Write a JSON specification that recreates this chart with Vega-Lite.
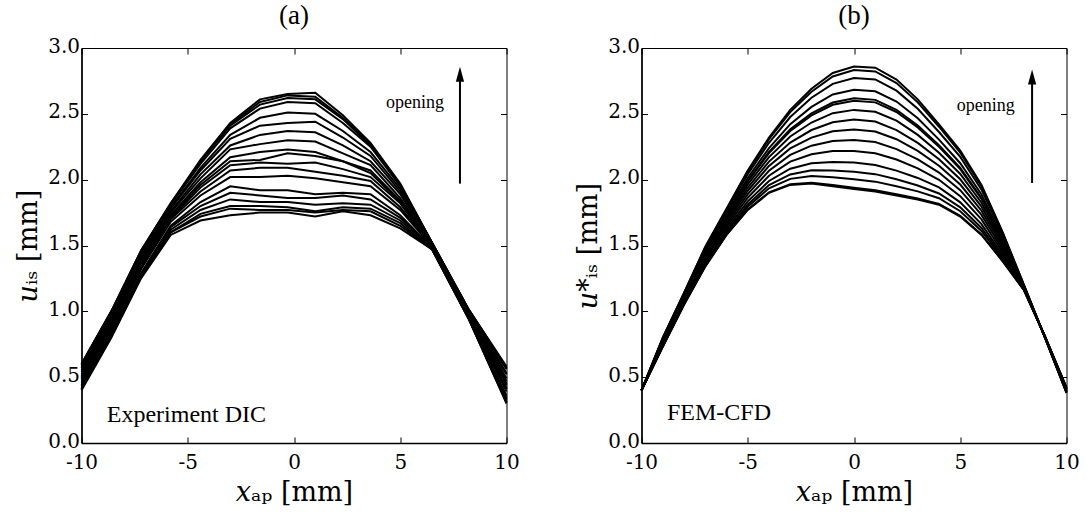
{
"$schema": "https://vega.github.io/schema/vega-lite/v6.json",
"background": "white",
"padding": {"left": 13.5, "top": 1, "right": 5, "bottom": 2},
"bounds": "flush",
"spacing": 135,
"config": {
  "font": "Liberation Serif",
  "view": {"stroke": "black", "strokeWidth": 1},
  "style": {"guide-label": {"font": "DejaVu Serif", "fill": "black"}, "guide-title": {"font": "DejaVu Serif", "fill": "black"}},
  "axis": {"grid": false, "domainColor": "black", "tickColor": "black", "labelColor": "black", "titleColor": "black", "labelFont": "DejaVu Serif", "titleFont": "DejaVu Serif", "labelFontSize": 20, "titleFontSize": 27, "titleFontWeight": "normal", "tickSize": -6, "labelPadding": 8, "domainWidth": 1.5, "tickWidth": 1, "labelFlush": false},
  "title": {"font": "Liberation Serif", "fontSize": 27, "fontWeight": "normal", "color": "black", "offset": 6}
},
"datasets": {
"dic": [
{"c":0,"x":-10,"y":0.40},{"c":0,"x":-8.6,"y":0.80},{"c":0,"x":-7.2,"y":1.25},{"c":0,"x":-5.8,"y":1.58},{"c":0,"x":-4.4,"y":1.69},{"c":0,"x":-3,"y":1.73},{"c":0,"x":-1.6,"y":1.75},{"c":0,"x":-0.3,"y":1.75},{"c":0,"x":1,"y":1.72},{"c":0,"x":2.3,"y":1.76},{"c":0,"x":3.6,"y":1.73},{"c":0,"x":5,"y":1.63},{"c":0,"x":6.5,"y":1.47},{"c":0,"x":8.2,"y":0.95},{"c":0,"x":10,"y":0.30},
{"c":1,"x":-10,"y":0.41},{"c":1,"x":-8.6,"y":0.81},{"c":1,"x":-7.2,"y":1.26},{"c":1,"x":-5.8,"y":1.60},{"c":1,"x":-4.4,"y":1.72},{"c":1,"x":-3,"y":1.78},{"c":1,"x":-1.6,"y":1.77},{"c":1,"x":-0.3,"y":1.77},{"c":1,"x":1,"y":1.75},{"c":1,"x":2.3,"y":1.77},{"c":1,"x":3.6,"y":1.76},{"c":1,"x":5,"y":1.65},{"c":1,"x":6.5,"y":1.47},{"c":1,"x":8.2,"y":0.95},{"c":1,"x":10,"y":0.31},
{"c":2,"x":-10,"y":0.41},{"c":2,"x":-8.6,"y":0.81},{"c":2,"x":-7.2,"y":1.26},{"c":2,"x":-5.8,"y":1.60},{"c":2,"x":-4.4,"y":1.74},{"c":2,"x":-3,"y":1.80},{"c":2,"x":-1.6,"y":1.80},{"c":2,"x":-0.3,"y":1.79},{"c":2,"x":1,"y":1.76},{"c":2,"x":2.3,"y":1.79},{"c":2,"x":3.6,"y":1.78},{"c":2,"x":5,"y":1.67},{"c":2,"x":6.5,"y":1.47},{"c":2,"x":8.2,"y":0.95},{"c":2,"x":10,"y":0.31},
{"c":3,"x":-10,"y":0.42},{"c":3,"x":-8.6,"y":0.82},{"c":3,"x":-7.2,"y":1.27},{"c":3,"x":-5.8,"y":1.62},{"c":3,"x":-4.4,"y":1.77},{"c":3,"x":-3,"y":1.85},{"c":3,"x":-1.6,"y":1.83},{"c":3,"x":-0.3,"y":1.83},{"c":3,"x":1,"y":1.81},{"c":3,"x":2.3,"y":1.82},{"c":3,"x":3.6,"y":1.81},{"c":3,"x":5,"y":1.69},{"c":3,"x":6.5,"y":1.48},{"c":3,"x":8.2,"y":0.96},{"c":3,"x":10,"y":0.33},
{"c":4,"x":-10,"y":0.43},{"c":4,"x":-8.6,"y":0.83},{"c":4,"x":-7.2,"y":1.28},{"c":4,"x":-5.8,"y":1.64},{"c":4,"x":-4.4,"y":1.80},{"c":4,"x":-3,"y":1.90},{"c":4,"x":-1.6,"y":1.88},{"c":4,"x":-0.3,"y":1.86},{"c":4,"x":1,"y":1.86},{"c":4,"x":2.3,"y":1.88},{"c":4,"x":3.6,"y":1.85},{"c":4,"x":5,"y":1.71},{"c":4,"x":6.5,"y":1.48},{"c":4,"x":8.2,"y":0.96},{"c":4,"x":10,"y":0.34},
{"c":5,"x":-10,"y":0.44},{"c":5,"x":-8.6,"y":0.84},{"c":5,"x":-7.2,"y":1.29},{"c":5,"x":-5.8,"y":1.65},{"c":5,"x":-4.4,"y":1.83},{"c":5,"x":-3,"y":1.95},{"c":5,"x":-1.6,"y":1.92},{"c":5,"x":-0.3,"y":1.92},{"c":5,"x":1,"y":1.89},{"c":5,"x":2.3,"y":1.90},{"c":5,"x":3.6,"y":1.89},{"c":5,"x":5,"y":1.73},{"c":5,"x":6.5,"y":1.48},{"c":5,"x":8.2,"y":0.96},{"c":5,"x":10,"y":0.36},
{"c":6,"x":-10,"y":0.46},{"c":6,"x":-8.6,"y":0.86},{"c":6,"x":-7.2,"y":1.32},{"c":6,"x":-5.8,"y":1.68},{"c":6,"x":-4.4,"y":1.88},{"c":6,"x":-3,"y":2.02},{"c":6,"x":-1.6,"y":2.02},{"c":6,"x":-0.3,"y":2.03},{"c":6,"x":1,"y":2.01},{"c":6,"x":2.3,"y":1.98},{"c":6,"x":3.6,"y":1.95},{"c":6,"x":5,"y":1.77},{"c":6,"x":6.5,"y":1.49},{"c":6,"x":8.2,"y":0.97},{"c":6,"x":10,"y":0.39},
{"c":7,"x":-10,"y":0.48},{"c":7,"x":-8.6,"y":0.88},{"c":7,"x":-7.2,"y":1.33},{"c":7,"x":-5.8,"y":1.70},{"c":7,"x":-4.4,"y":1.91},{"c":7,"x":-3,"y":2.07},{"c":7,"x":-1.6,"y":2.09},{"c":7,"x":-0.3,"y":2.09},{"c":7,"x":1,"y":2.06},{"c":7,"x":2.3,"y":2.03},{"c":7,"x":3.6,"y":1.99},{"c":7,"x":5,"y":1.79},{"c":7,"x":6.5,"y":1.49},{"c":7,"x":8.2,"y":0.98},{"c":7,"x":10,"y":0.41},
{"c":8,"x":-10,"y":0.49},{"c":8,"x":-8.6,"y":0.89},{"c":8,"x":-7.2,"y":1.34},{"c":8,"x":-5.8,"y":1.71},{"c":8,"x":-4.4,"y":1.94},{"c":8,"x":-3,"y":2.11},{"c":8,"x":-1.6,"y":2.13},{"c":8,"x":-0.3,"y":2.12},{"c":8,"x":1,"y":2.13},{"c":8,"x":2.3,"y":2.08},{"c":8,"x":3.6,"y":2.02},{"c":8,"x":5,"y":1.82},{"c":8,"x":6.5,"y":1.49},{"c":8,"x":8.2,"y":0.98},{"c":8,"x":10,"y":0.42},
{"c":9,"x":-10,"y":0.50},{"c":9,"x":-8.6,"y":0.90},{"c":9,"x":-7.2,"y":1.35},{"c":9,"x":-5.8,"y":1.72},{"c":9,"x":-4.4,"y":1.96},{"c":9,"x":-3,"y":2.14},{"c":9,"x":-1.6,"y":2.15},{"c":9,"x":-0.3,"y":2.20},{"c":9,"x":1,"y":2.18},{"c":9,"x":2.3,"y":2.14},{"c":9,"x":3.6,"y":2.05},{"c":9,"x":5,"y":1.83},{"c":9,"x":6.5,"y":1.50},{"c":9,"x":8.2,"y":0.99},{"c":9,"x":10,"y":0.44},
{"c":10,"x":-10,"y":0.51},{"c":10,"x":-8.6,"y":0.91},{"c":10,"x":-7.2,"y":1.36},{"c":10,"x":-5.8,"y":1.73},{"c":10,"x":-4.4,"y":1.98},{"c":10,"x":-3,"y":2.17},{"c":10,"x":-1.6,"y":2.21},{"c":10,"x":-0.3,"y":2.23},{"c":10,"x":1,"y":2.21},{"c":10,"x":2.3,"y":2.14},{"c":10,"x":3.6,"y":2.07},{"c":10,"x":5,"y":1.84},{"c":10,"x":6.5,"y":1.50},{"c":10,"x":8.2,"y":0.99},{"c":10,"x":10,"y":0.45},
{"c":11,"x":-10,"y":0.52},{"c":11,"x":-8.6,"y":0.92},{"c":11,"x":-7.2,"y":1.38},{"c":11,"x":-5.8,"y":1.75},{"c":11,"x":-4.4,"y":2.01},{"c":11,"x":-3,"y":2.23},{"c":11,"x":-1.6,"y":2.27},{"c":11,"x":-0.3,"y":2.30},{"c":11,"x":1,"y":2.29},{"c":11,"x":2.3,"y":2.20},{"c":11,"x":3.6,"y":2.11},{"c":11,"x":5,"y":1.86},{"c":11,"x":6.5,"y":1.50},{"c":11,"x":8.2,"y":0.99},{"c":11,"x":10,"y":0.47},
{"c":12,"x":-10,"y":0.54},{"c":12,"x":-8.6,"y":0.94},{"c":12,"x":-7.2,"y":1.39},{"c":12,"x":-5.8,"y":1.76},{"c":12,"x":-4.4,"y":2.04},{"c":12,"x":-3,"y":2.26},{"c":12,"x":-1.6,"y":2.34},{"c":12,"x":-0.3,"y":2.37},{"c":12,"x":1,"y":2.36},{"c":12,"x":2.3,"y":2.26},{"c":12,"x":3.6,"y":2.14},{"c":12,"x":5,"y":1.89},{"c":12,"x":6.5,"y":1.50},{"c":12,"x":8.2,"y":1.00},{"c":12,"x":10,"y":0.49},
{"c":13,"x":-10,"y":0.55},{"c":13,"x":-8.6,"y":0.95},{"c":13,"x":-7.2,"y":1.41},{"c":13,"x":-5.8,"y":1.78},{"c":13,"x":-4.4,"y":2.07},{"c":13,"x":-3,"y":2.31},{"c":13,"x":-1.6,"y":2.41},{"c":13,"x":-0.3,"y":2.43},{"c":13,"x":1,"y":2.44},{"c":13,"x":2.3,"y":2.32},{"c":13,"x":3.6,"y":2.18},{"c":13,"x":5,"y":1.91},{"c":13,"x":6.5,"y":1.51},{"c":13,"x":8.2,"y":1.00},{"c":13,"x":10,"y":0.52},
{"c":14,"x":-10,"y":0.57},{"c":14,"x":-8.6,"y":0.97},{"c":14,"x":-7.2,"y":1.43},{"c":14,"x":-5.8,"y":1.79},{"c":14,"x":-4.4,"y":2.09},{"c":14,"x":-3,"y":2.34},{"c":14,"x":-1.6,"y":2.47},{"c":14,"x":-0.3,"y":2.51},{"c":14,"x":1,"y":2.50},{"c":14,"x":2.3,"y":2.37},{"c":14,"x":3.6,"y":2.21},{"c":14,"x":5,"y":1.93},{"c":14,"x":6.5,"y":1.51},{"c":14,"x":8.2,"y":1.01},{"c":14,"x":10,"y":0.53},
{"c":15,"x":-10,"y":0.58},{"c":15,"x":-8.6,"y":0.98},{"c":15,"x":-7.2,"y":1.44},{"c":15,"x":-5.8,"y":1.81},{"c":15,"x":-4.4,"y":2.12},{"c":15,"x":-3,"y":2.39},{"c":15,"x":-1.6,"y":2.54},{"c":15,"x":-0.3,"y":2.59},{"c":15,"x":1,"y":2.58},{"c":15,"x":2.3,"y":2.43},{"c":15,"x":3.6,"y":2.25},{"c":15,"x":5,"y":1.95},{"c":15,"x":6.5,"y":1.52},{"c":15,"x":8.2,"y":1.01},{"c":15,"x":10,"y":0.56},
{"c":16,"x":-10,"y":0.59},{"c":16,"x":-8.6,"y":0.99},{"c":16,"x":-7.2,"y":1.45},{"c":16,"x":-5.8,"y":1.81},{"c":16,"x":-4.4,"y":2.14},{"c":16,"x":-3,"y":2.41},{"c":16,"x":-1.6,"y":2.57},{"c":16,"x":-0.3,"y":2.62},{"c":16,"x":1,"y":2.61},{"c":16,"x":2.3,"y":2.46},{"c":16,"x":3.6,"y":2.26},{"c":16,"x":5,"y":1.96},{"c":16,"x":6.5,"y":1.52},{"c":16,"x":8.2,"y":1.02},{"c":16,"x":10,"y":0.57},
{"c":17,"x":-10,"y":0.60},{"c":17,"x":-8.6,"y":1.00},{"c":17,"x":-7.2,"y":1.46},{"c":17,"x":-5.8,"y":1.82},{"c":17,"x":-4.4,"y":2.14},{"c":17,"x":-3,"y":2.42},{"c":17,"x":-1.6,"y":2.59},{"c":17,"x":-0.3,"y":2.64},{"c":17,"x":1,"y":2.63},{"c":17,"x":2.3,"y":2.47},{"c":17,"x":3.6,"y":2.27},{"c":17,"x":5,"y":1.96},{"c":17,"x":6.5,"y":1.52},{"c":17,"x":8.2,"y":1.02},{"c":17,"x":10,"y":0.57},
{"c":18,"x":-10,"y":0.60},{"c":18,"x":-8.6,"y":1.00},{"c":18,"x":-7.2,"y":1.46},{"c":18,"x":-5.8,"y":1.82},{"c":18,"x":-4.4,"y":2.15},{"c":18,"x":-3,"y":2.43},{"c":18,"x":-1.6,"y":2.61},{"c":18,"x":-0.3,"y":2.65},{"c":18,"x":1,"y":2.66},{"c":18,"x":2.3,"y":2.49},{"c":18,"x":3.6,"y":2.28},{"c":18,"x":5,"y":1.97},{"c":18,"x":6.5,"y":1.52},{"c":18,"x":8.2,"y":1.02},{"c":18,"x":10,"y":0.58}
],
"fem": [
{"c":0,"x":-10,"y":0.40},{"c":0,"x":-9,"y":0.73},{"c":0,"x":-8,"y":1.05},{"c":0,"x":-7,"y":1.34},{"c":0,"x":-6,"y":1.58},{"c":0,"x":-5,"y":1.77},{"c":0,"x":-4,"y":1.90},{"c":0,"x":-3,"y":1.96},{"c":0,"x":-2,"y":1.97},{"c":0,"x":-1,"y":1.95},{"c":0,"x":0,"y":1.93},{"c":0,"x":1,"y":1.91},{"c":0,"x":2,"y":1.88},{"c":0,"x":3,"y":1.85},{"c":0,"x":4,"y":1.81},{"c":0,"x":5,"y":1.72},{"c":0,"x":6,"y":1.58},{"c":0,"x":7,"y":1.38},{"c":0,"x":8,"y":1.16},{"c":0,"x":9,"y":0.805},{"c":0,"x":10,"y":0.42},
{"c":1,"x":-10,"y":0.40},{"c":1,"x":-9,"y":0.731},{"c":1,"x":-8,"y":1.051},{"c":1,"x":-7,"y":1.342},{"c":1,"x":-6,"y":1.582},{"c":1,"x":-5,"y":1.773},{"c":1,"x":-4,"y":1.904},{"c":1,"x":-3,"y":1.966},{"c":1,"x":-2,"y":1.977},{"c":1,"x":-1,"y":1.959},{"c":1,"x":0,"y":1.939},{"c":1,"x":1,"y":1.919},{"c":1,"x":2,"y":1.889},{"c":1,"x":3,"y":1.858},{"c":1,"x":4,"y":1.816},{"c":1,"x":5,"y":1.725},{"c":1,"x":6,"y":1.584},{"c":1,"x":7,"y":1.382},{"c":1,"x":8,"y":1.160},{"c":1,"x":9,"y":0.805},{"c":1,"x":10,"y":0.42},
{"c":2,"x":-10,"y":0.40},{"c":2,"x":-9,"y":0.736},{"c":2,"x":-8,"y":1.057},{"c":2,"x":-7,"y":1.352},{"c":2,"x":-6,"y":1.596},{"c":2,"x":-5,"y":1.794},{"c":2,"x":-4,"y":1.934},{"c":2,"x":-3,"y":2.006},{"c":2,"x":-2,"y":2.028},{"c":2,"x":-1,"y":2.019},{"c":2,"x":0,"y":2.004},{"c":2,"x":1,"y":1.985},{"c":2,"x":2,"y":1.950},{"c":2,"x":3,"y":1.911},{"c":2,"x":4,"y":1.859},{"c":2,"x":5,"y":1.760},{"c":2,"x":6,"y":1.610},{"c":2,"x":7,"y":1.398},{"c":2,"x":8,"y":1.163},{"c":2,"x":9,"y":0.804},{"c":2,"x":10,"y":0.417},
{"c":3,"x":-10,"y":0.40},{"c":3,"x":-9,"y":0.740},{"c":3,"x":-8,"y":1.063},{"c":3,"x":-7,"y":1.361},{"c":3,"x":-6,"y":1.608},{"c":3,"x":-5,"y":1.812},{"c":3,"x":-4,"y":1.959},{"c":3,"x":-3,"y":2.040},{"c":3,"x":-2,"y":2.071},{"c":3,"x":-1,"y":2.070},{"c":3,"x":0,"y":2.060},{"c":3,"x":1,"y":2.042},{"c":3,"x":2,"y":2.003},{"c":3,"x":3,"y":1.956},{"c":3,"x":4,"y":1.895},{"c":3,"x":5,"y":1.790},{"c":3,"x":6,"y":1.633},{"c":3,"x":7,"y":1.411},{"c":3,"x":8,"y":1.166},{"c":3,"x":9,"y":0.803},{"c":3,"x":10,"y":0.414},
{"c":4,"x":-10,"y":0.40},{"c":4,"x":-9,"y":0.745},{"c":4,"x":-8,"y":1.069},{"c":4,"x":-7,"y":1.372},{"c":4,"x":-6,"y":1.623},{"c":4,"x":-5,"y":1.835},{"c":4,"x":-4,"y":1.990},{"c":4,"x":-3,"y":2.083},{"c":4,"x":-2,"y":2.125},{"c":4,"x":-1,"y":2.135},{"c":4,"x":0,"y":2.130},{"c":4,"x":1,"y":2.112},{"c":4,"x":2,"y":2.069},{"c":4,"x":3,"y":2.013},{"c":4,"x":4,"y":1.941},{"c":4,"x":5,"y":1.828},{"c":4,"x":6,"y":1.662},{"c":4,"x":7,"y":1.427},{"c":4,"x":8,"y":1.169},{"c":4,"x":9,"y":0.802},{"c":4,"x":10,"y":0.411},
{"c":5,"x":-10,"y":0.40},{"c":5,"x":-9,"y":0.752},{"c":5,"x":-8,"y":1.078},{"c":5,"x":-7,"y":1.387},{"c":5,"x":-6,"y":1.642},{"c":5,"x":-5,"y":1.863},{"c":5,"x":-4,"y":2.030},{"c":5,"x":-3,"y":2.137},{"c":5,"x":-2,"y":2.193},{"c":5,"x":-1,"y":2.217},{"c":5,"x":0,"y":2.218},{"c":5,"x":1,"y":2.201},{"c":5,"x":2,"y":2.153},{"c":5,"x":3,"y":2.086},{"c":5,"x":4,"y":1.999},{"c":5,"x":5,"y":1.875},{"c":5,"x":6,"y":1.698},{"c":5,"x":7,"y":1.448},{"c":5,"x":8,"y":1.172},{"c":5,"x":9,"y":0.801},{"c":5,"x":10,"y":0.408},
{"c":6,"x":-10,"y":0.40},{"c":6,"x":-9,"y":0.758},{"c":6,"x":-8,"y":1.086},{"c":6,"x":-7,"y":1.400},{"c":6,"x":-6,"y":1.660},{"c":6,"x":-5,"y":1.890},{"c":6,"x":-4,"y":2.068},{"c":6,"x":-3,"y":2.188},{"c":6,"x":-2,"y":2.258},{"c":6,"x":-1,"y":2.294},{"c":6,"x":0,"y":2.302},{"c":6,"x":1,"y":2.286},{"c":6,"x":2,"y":2.232},{"c":6,"x":3,"y":2.154},{"c":6,"x":4,"y":2.054},{"c":6,"x":5,"y":1.920},{"c":6,"x":6,"y":1.732},{"c":6,"x":7,"y":1.468},{"c":6,"x":8,"y":1.176},{"c":6,"x":9,"y":0.800},{"c":6,"x":10,"y":0.404},
{"c":7,"x":-10,"y":0.40},{"c":7,"x":-9,"y":0.764},{"c":7,"x":-8,"y":1.094},{"c":7,"x":-7,"y":1.413},{"c":7,"x":-6,"y":1.677},{"c":7,"x":-5,"y":1.916},{"c":7,"x":-4,"y":2.104},{"c":7,"x":-3,"y":2.237},{"c":7,"x":-2,"y":2.319},{"c":7,"x":-1,"y":2.367},{"c":7,"x":0,"y":2.381},{"c":7,"x":1,"y":2.366},{"c":7,"x":2,"y":2.307},{"c":7,"x":3,"y":2.219},{"c":7,"x":4,"y":2.106},{"c":7,"x":5,"y":1.963},{"c":7,"x":6,"y":1.764},{"c":7,"x":7,"y":1.487},{"c":7,"x":8,"y":1.179},{"c":7,"x":9,"y":0.800},{"c":7,"x":10,"y":0.401},
{"c":8,"x":-10,"y":0.40},{"c":8,"x":-9,"y":0.770},{"c":8,"x":-8,"y":1.101},{"c":8,"x":-7,"y":1.425},{"c":8,"x":-6,"y":1.693},{"c":8,"x":-5,"y":1.940},{"c":8,"x":-4,"y":2.137},{"c":8,"x":-3,"y":2.282},{"c":8,"x":-2,"y":2.377},{"c":8,"x":-1,"y":2.436},{"c":8,"x":0,"y":2.456},{"c":8,"x":1,"y":2.441},{"c":8,"x":2,"y":2.377},{"c":8,"x":3,"y":2.279},{"c":8,"x":4,"y":2.155},{"c":8,"x":5,"y":2.003},{"c":8,"x":6,"y":1.795},{"c":8,"x":7,"y":1.504},{"c":8,"x":8,"y":1.183},{"c":8,"x":9,"y":0.799},{"c":8,"x":10,"y":0.397},
{"c":9,"x":-10,"y":0.40},{"c":9,"x":-9,"y":0.775},{"c":9,"x":-8,"y":1.108},{"c":9,"x":-7,"y":1.437},{"c":9,"x":-6,"y":1.709},{"c":9,"x":-5,"y":1.964},{"c":9,"x":-4,"y":2.171},{"c":9,"x":-3,"y":2.328},{"c":9,"x":-2,"y":2.434},{"c":9,"x":-1,"y":2.505},{"c":9,"x":0,"y":2.530},{"c":9,"x":1,"y":2.516},{"c":9,"x":2,"y":2.448},{"c":9,"x":3,"y":2.340},{"c":9,"x":4,"y":2.204},{"c":9,"x":5,"y":2.043},{"c":9,"x":6,"y":1.825},{"c":9,"x":7,"y":1.522},{"c":9,"x":8,"y":1.186},{"c":9,"x":9,"y":0.798},{"c":9,"x":10,"y":0.394},
{"c":10,"x":-10,"y":0.40},{"c":10,"x":-9,"y":0.780},{"c":10,"x":-8,"y":1.115},{"c":10,"x":-7,"y":1.448},{"c":10,"x":-6,"y":1.724},{"c":10,"x":-5,"y":1.986},{"c":10,"x":-4,"y":2.202},{"c":10,"x":-3,"y":2.370},{"c":10,"x":-2,"y":2.488},{"c":10,"x":-1,"y":2.569},{"c":10,"x":0,"y":2.600},{"c":10,"x":1,"y":2.587},{"c":10,"x":2,"y":2.514},{"c":10,"x":3,"y":2.397},{"c":10,"x":4,"y":2.249},{"c":10,"x":5,"y":2.080},{"c":10,"x":6,"y":1.854},{"c":10,"x":7,"y":1.538},{"c":10,"x":8,"y":1.189},{"c":10,"x":9,"y":0.797},{"c":10,"x":10,"y":0.391},
{"c":11,"x":-10,"y":0.40},{"c":11,"x":-9,"y":0.782},{"c":11,"x":-8,"y":1.117},{"c":11,"x":-7,"y":1.451},{"c":11,"x":-6,"y":1.728},{"c":11,"x":-5,"y":1.992},{"c":11,"x":-4,"y":2.211},{"c":11,"x":-3,"y":2.382},{"c":11,"x":-2,"y":2.503},{"c":11,"x":-1,"y":2.586},{"c":11,"x":0,"y":2.618},{"c":11,"x":1,"y":2.606},{"c":11,"x":2,"y":2.531},{"c":11,"x":3,"y":2.412},{"c":11,"x":4,"y":2.261},{"c":11,"x":5,"y":2.090},{"c":11,"x":6,"y":1.861},{"c":11,"x":7,"y":1.543},{"c":11,"x":8,"y":1.190},{"c":11,"x":9,"y":0.797},{"c":11,"x":10,"y":0.390},
{"c":12,"x":-10,"y":0.40},{"c":12,"x":-9,"y":0.787},{"c":12,"x":-8,"y":1.123},{"c":12,"x":-7,"y":1.462},{"c":12,"x":-6,"y":1.742},{"c":12,"x":-5,"y":2.013},{"c":12,"x":-4,"y":2.240},{"c":12,"x":-3,"y":2.422},{"c":12,"x":-2,"y":2.553},{"c":12,"x":-1,"y":2.647},{"c":12,"x":0,"y":2.683},{"c":12,"x":1,"y":2.671},{"c":12,"x":2,"y":2.593},{"c":12,"x":3,"y":2.466},{"c":12,"x":4,"y":2.304},{"c":12,"x":5,"y":2.125},{"c":12,"x":6,"y":1.888},{"c":12,"x":7,"y":1.558},{"c":12,"x":8,"y":1.192},{"c":12,"x":9,"y":0.796},{"c":12,"x":10,"y":0.388},
{"c":13,"x":-10,"y":0.40},{"c":13,"x":-9,"y":0.793},{"c":13,"x":-8,"y":1.132},{"c":13,"x":-7,"y":1.476},{"c":13,"x":-6,"y":1.761},{"c":13,"x":-5,"y":2.042},{"c":13,"x":-4,"y":2.280},{"c":13,"x":-3,"y":2.476},{"c":13,"x":-2,"y":2.622},{"c":13,"x":-1,"y":2.728},{"c":13,"x":0,"y":2.772},{"c":13,"x":1,"y":2.761},{"c":13,"x":2,"y":2.676},{"c":13,"x":3,"y":2.538},{"c":13,"x":4,"y":2.362},{"c":13,"x":5,"y":2.173},{"c":13,"x":6,"y":1.924},{"c":13,"x":7,"y":1.579},{"c":13,"x":8,"y":1.196},{"c":13,"x":9,"y":0.796},{"c":13,"x":10,"y":0.384},
{"c":14,"x":-10,"y":0.40},{"c":14,"x":-9,"y":0.798},{"c":14,"x":-8,"y":1.137},{"c":14,"x":-7,"y":1.486},{"c":14,"x":-6,"y":1.774},{"c":14,"x":-5,"y":2.061},{"c":14,"x":-4,"y":2.307},{"c":14,"x":-3,"y":2.513},{"c":14,"x":-2,"y":2.668},{"c":14,"x":-1,"y":2.784},{"c":14,"x":0,"y":2.832},{"c":14,"x":1,"y":2.822},{"c":14,"x":2,"y":2.734},{"c":14,"x":3,"y":2.587},{"c":14,"x":4,"y":2.402},{"c":14,"x":5,"y":2.205},{"c":14,"x":6,"y":1.949},{"c":14,"x":7,"y":1.593},{"c":14,"x":8,"y":1.199},{"c":14,"x":9,"y":0.795},{"c":14,"x":10,"y":0.381},
{"c":15,"x":-10,"y":0.40},{"c":15,"x":-9,"y":0.80},{"c":15,"x":-8,"y":1.14},{"c":15,"x":-7,"y":1.49},{"c":15,"x":-6,"y":1.78},{"c":15,"x":-5,"y":2.07},{"c":15,"x":-4,"y":2.32},{"c":15,"x":-3,"y":2.53},{"c":15,"x":-2,"y":2.69},{"c":15,"x":-1,"y":2.81},{"c":15,"x":0,"y":2.86},{"c":15,"x":1,"y":2.85},{"c":15,"x":2,"y":2.76},{"c":15,"x":3,"y":2.61},{"c":15,"x":4,"y":2.42},{"c":15,"x":5,"y":2.22},{"c":15,"x":6,"y":1.96},{"c":15,"x":7,"y":1.60},{"c":15,"x":8,"y":1.20},{"c":15,"x":9,"y":0.795},{"c":15,"x":10,"y":0.38}
],
"arrowA": [{"x": 7.81, "y1": 1.97, "y2": 2.80}],
"arrowB": [{"x": 8.38, "y1": 1.975, "y2": 2.78}],
"openA": [{"x": 7.06, "y": 2.58, "t": "opening"}],
"openB": [{"x": 7.57, "y": 2.56, "t": "opening"}],
"noteA": [{"x": -8.81, "y": 0.21, "t": "Experiment DIC"}],
"noteB": [{"x": -8.80, "y": 0.225, "t": "FEM-CFD"}]
},
"hconcat": [
{
 "title": {"text": "(a)", "font": "Liberation Serif", "fontSize": 27, "fontWeight": "normal"},
 "width": 425, "height": 395,
 "resolve": {"axis": {"x": "independent", "y": "independent"}},
 "layer": [
  {"data": {"name": "dic"}, "mark": {"type": "line", "color": "black", "strokeWidth": 2},
   "encoding": {
    "x": {"field": "x", "type": "quantitative", "scale": {"domain": [-10, 10], "nice": false}, "axis": {"values": [-10, -5, 0, 5, 10], "labelExpr": "'' + datum.value", "title": "𝑥ₐₚ [mm]", "titlePadding": 7, "labelFont": "DejaVu Serif", "titleFont": "DejaVu Serif", "labelFontSize": 20, "titleFontSize": 27, "labelFlush": false, "labelPadding": 15}},
    "y": {"field": "y", "type": "quantitative", "scale": {"domain": [0, 3], "nice": false}, "axis": {"values": [0, 0.5, 1, 1.5, 2, 2.5, 3], "format": ".1f", "title": "𝑢ᵢₛ [mm]", "titlePadding": 5, "labelFont": "DejaVu Serif", "titleFont": "DejaVu Serif", "labelFontSize": 20, "titleFontSize": 27, "labelFlush": false, "labelOffset": -2}},
    "detail": {"field": "c", "type": "nominal"}}},
  {"data": {"name": "arrowA"}, "mark": {"type": "rule", "color": "black", "strokeWidth": 2},
   "encoding": {
    "x": {"field": "x", "type": "quantitative", "axis": {"orient": "top", "labels": false, "title": null, "domain": false, "values": [-10, -5, 0, 5, 10]}},
    "y": {"field": "y1", "type": "quantitative", "axis": {"orient": "right", "labels": false, "title": null, "domain": false, "values": [0, 0.5, 1, 1.5, 2, 2.5, 3]}},
    "y2": {"field": "y2"}}},
  {"data": {"name": "arrowA"}, "mark": {"type": "point", "shape": "M0,-1L0.55,1L-0.55,1Z", "filled": true, "size": 225, "color": "black", "opacity": 1},
   "encoding": {"x": {"field": "x", "type": "quantitative", "axis": null}, "y": {"field": "y2", "type": "quantitative", "axis": null}}},
  {"data": {"name": "openA"}, "mark": {"type": "text", "align": "right", "baseline": "middle", "fontSize": 18, "font": "Liberation Serif", "color": "black"},
   "encoding": {"x": {"field": "x", "type": "quantitative", "axis": null}, "y": {"field": "y", "type": "quantitative", "axis": null}, "text": {"field": "t"}}},
  {"data": {"name": "noteA"}, "mark": {"type": "text", "align": "left", "baseline": "middle", "fontSize": 24, "font": "Liberation Serif", "color": "black"},
   "encoding": {"x": {"field": "x", "type": "quantitative", "axis": null}, "y": {"field": "y", "type": "quantitative", "axis": null}, "text": {"field": "t"}}}
 ]
},
{
 "title": {"text": "(b)", "font": "Liberation Serif", "fontSize": 27, "fontWeight": "normal"},
 "width": 425, "height": 395,
 "resolve": {"axis": {"x": "independent", "y": "independent"}},
 "layer": [
  {"data": {"name": "fem"}, "mark": {"type": "line", "color": "black", "strokeWidth": 2},
   "encoding": {
    "x": {"field": "x", "type": "quantitative", "scale": {"domain": [-10, 10], "nice": false}, "axis": {"values": [-10, -5, 0, 5, 10], "labelExpr": "'' + datum.value", "title": "𝑥ₐₚ [mm]", "titlePadding": 7, "labelFont": "DejaVu Serif", "titleFont": "DejaVu Serif", "labelFontSize": 20, "titleFontSize": 27, "labelFlush": false, "labelPadding": 15}},
    "y": {"field": "y", "type": "quantitative", "scale": {"domain": [0, 3], "nice": false}, "axis": {"values": [0, 0.5, 1, 1.5, 2, 2.5, 3], "format": ".1f", "title": "𝑢*ᵢₛ [mm]", "titlePadding": 5, "labelFont": "DejaVu Serif", "titleFont": "DejaVu Serif", "labelFontSize": 20, "titleFontSize": 27, "labelFlush": false, "labelOffset": -2}},
    "detail": {"field": "c", "type": "nominal"}}},
  {"data": {"name": "arrowB"}, "mark": {"type": "rule", "color": "black", "strokeWidth": 2},
   "encoding": {
    "x": {"field": "x", "type": "quantitative", "axis": {"orient": "top", "labels": false, "title": null, "domain": false, "values": [-10, -5, 0, 5, 10]}},
    "y": {"field": "y1", "type": "quantitative", "axis": {"orient": "right", "labels": false, "title": null, "domain": false, "values": [0, 0.5, 1, 1.5, 2, 2.5, 3]}},
    "y2": {"field": "y2"}}},
  {"data": {"name": "arrowB"}, "mark": {"type": "point", "shape": "M0,-1L0.55,1L-0.55,1Z", "filled": true, "size": 225, "color": "black", "opacity": 1},
   "encoding": {"x": {"field": "x", "type": "quantitative", "axis": null}, "y": {"field": "y2", "type": "quantitative", "axis": null}}},
  {"data": {"name": "openB"}, "mark": {"type": "text", "align": "right", "baseline": "middle", "fontSize": 18, "font": "Liberation Serif", "color": "black"},
   "encoding": {"x": {"field": "x", "type": "quantitative", "axis": null}, "y": {"field": "y", "type": "quantitative", "axis": null}, "text": {"field": "t"}}},
  {"data": {"name": "noteB"}, "mark": {"type": "text", "align": "left", "baseline": "middle", "fontSize": 24, "font": "Liberation Serif", "color": "black"},
   "encoding": {"x": {"field": "x", "type": "quantitative", "axis": null}, "y": {"field": "y", "type": "quantitative", "axis": null}, "text": {"field": "t"}}}
 ]
}
]
}
